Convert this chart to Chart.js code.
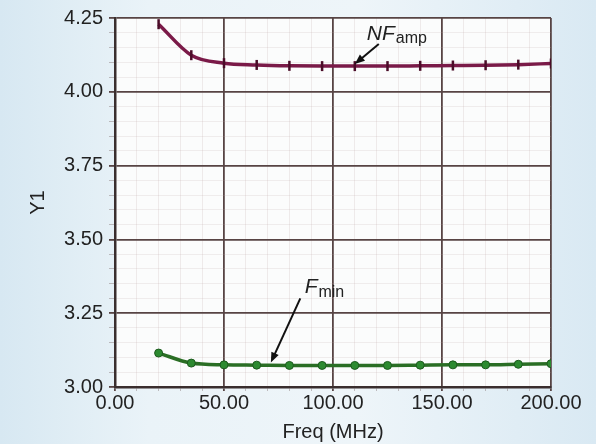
<!DOCTYPE html>
<html>
<head>
<meta charset="utf-8">
<script src="https://cdn.jsdelivr.net/npm/chart.js@4"></script>
<style>
  html, body { margin: 0; padding: 0; }
  body {
    width: 596px; height: 444px; overflow: hidden;
    background: linear-gradient(90deg, #d7e8f2 0%, #eaf3f8 25%, #eef5f9 60%, #d9e9f3 100%);
  }
  #wrap { position: relative; width: 596px; height: 444px; }
</style>
</head>
<body>
<div id="wrap"><canvas id="nfChart" width="596" height="444"></canvas></div>
<script>
// frequencies (MHz) and curve values
var freqs = [20, 35, 50, 65, 80, 95, 110, 125, 140, 155, 170, 185, 200];
var nfAmp = [4.229, 4.124, 4.097, 4.091, 4.088, 4.087, 4.087, 4.087, 4.088, 4.089, 4.090, 4.092, 4.096];
var fMin  = [3.115, 3.081, 3.075, 3.074, 3.073, 3.073, 3.073, 3.073, 3.074, 3.075, 3.075, 3.077, 3.079];

var xTicks = [0, 50, 100, 150, 200];
var yTicks = [3.00, 3.25, 3.50, 3.75, 4.00, 4.25];

function isMajor(list, v) {
  return list.some(function(t) { return Math.abs(t - v) < 1e-6; });
}

var nfPts = freqs.map(function(f, i) { return { x: f, y: nfAmp[i] }; });
var fminPts = freqs.map(function(f, i) { return { x: f, y: fMin[i] }; });

// white plot area
var plotBg = {
  id: 'plotBg',
  beforeDraw: function(chart) {
    var a = chart.chartArea, ctx = chart.ctx;
    ctx.save();
    ctx.fillStyle = '#fbfcfc';
    ctx.fillRect(a.left, a.top, a.right - a.left, a.bottom - a.top);
    ctx.restore();
  }
};

// curve labels with arrows
function arrow(ctx, x1, y1, x2, y2) {
  var ang = Math.atan2(y2 - y1, x2 - x1);
  ctx.beginPath();
  ctx.moveTo(x1, y1);
  ctx.lineTo(x2 - 6 * Math.cos(ang), y2 - 6 * Math.sin(ang));
  ctx.stroke();
  ctx.beginPath();
  ctx.moveTo(x2, y2);
  ctx.lineTo(x2 - 10 * Math.cos(ang) + 4 * Math.sin(ang), y2 - 10 * Math.sin(ang) - 4 * Math.cos(ang));
  ctx.lineTo(x2 - 10 * Math.cos(ang) - 4 * Math.sin(ang), y2 - 10 * Math.sin(ang) + 4 * Math.cos(ang));
  ctx.closePath();
  ctx.fill();
}

var labels = {
  id: 'labels',
  afterDatasetsDraw: function(chart) {
    var ctx = chart.ctx, xs = chart.scales.x, ys = chart.scales.y;
    ctx.save();
    ctx.strokeStyle = '#111';
    ctx.fillStyle = '#111';
    ctx.lineWidth = 2;
    arrow(ctx, xs.getPixelForValue(121), ys.getPixelForValue(4.162), xs.getPixelForValue(110), ys.getPixelForValue(4.094));
    arrow(ctx, xs.getPixelForValue(85), ys.getPixelForValue(3.30), xs.getPixelForValue(71.5), ys.getPixelForValue(3.083));

    ctx.fillStyle = '#222';
    ctx.textBaseline = 'alphabetic';
    ctx.font = 'italic 21px "Liberation Sans", Arial, sans-serif';
    var nx = xs.getPixelForValue(115.5), ny = ys.getPixelForValue(4.175);
    ctx.fillText('NF', nx, ny);
    var w = ctx.measureText('NF').width;
    ctx.font = '16px "Liberation Sans", Arial, sans-serif';
    ctx.fillText('amp', nx + w + 1, ny + 3);

    ctx.font = 'italic 21px "Liberation Sans", Arial, sans-serif';
    var fx = xs.getPixelForValue(87), fy = ys.getPixelForValue(3.318);
    ctx.fillText('F', fx, fy);
    w = ctx.measureText('F').width;
    ctx.font = '16px "Liberation Sans", Arial, sans-serif';
    ctx.fillText('min', fx + w + 1, fy + 4);
    ctx.restore();
  }
};

var tickFont = { family: '"Liberation Sans", Arial, sans-serif', size: 20 };

new Chart(document.getElementById('nfChart'), {
  type: 'line',
  data: {
    datasets: [
      {
        label: 'NFamp',
        data: nfPts,
        borderColor: '#7a1a48',
        borderWidth: 3.5,
        cubicInterpolationMode: 'monotone',
        pointStyle: 'line',
        rotation: 90,
        pointRadius: 5,
        pointBorderWidth: 2.5,
        pointBorderColor: '#4a0c28',
        fill: false
      },
      {
        label: 'Fmin',
        data: fminPts,
        borderColor: '#2a6e25',
        borderWidth: 3.5,
        cubicInterpolationMode: 'monotone',
        pointStyle: 'circle',
        pointRadius: 4,
        pointBackgroundColor: '#2c8a30',
        pointBorderColor: '#1d5a1e',
        pointBorderWidth: 1,
        fill: false
      }
    ]
  },
  options: {
    responsive: false,
    animation: false,
    layout: { padding: { top: 18, right: 45, left: 26, bottom: 0 } },
    plugins: { legend: { display: false }, tooltip: { enabled: false } },
    scales: {
      x: {
        type: 'linear',
        min: 0,
        max: 200,
        afterFit: function(s) { s.height = 57; },
        ticks: {
          stepSize: 10,
          autoSkip: false,
          maxRotation: 0,
          padding: 0,
          color: '#222',
          font: tickFont,
          callback: function(v) { return isMajor(xTicks, v) ? v.toFixed(2) : ''; }
        },
        grid: {
          color: function(c) { return isMajor(xTicks, c.tick.value) ? '#574444' : 'rgba(190,165,165,0.2)'; },
          lineWidth: function(c) { return isMajor(xTicks, c.tick.value) ? 1.8 : 1; },
          tickColor: function(c) { return isMajor(xTicks, c.tick.value) ? '#574444' : 'rgba(120,100,100,0.4)'; },
          tickLength: 4
        },
        border: { color: '#3a2e2e', width: 2.5 },
        title: {
          display: true,
          text: 'Freq (MHz)',
          color: '#222',
          font: tickFont,
          padding: { top: 0, bottom: 0 }
        }
      },
      y: {
        min: 3.0,
        max: 4.25,
        afterFit: function(s) { s.width = 89; },
        afterBuildTicks: function(s) {
          var t = [];
          for (var i = 0; i <= 25; i++) t.push({ value: Math.round((3 + i * 0.05) * 100) / 100 });
          s.ticks = t;
        },
        ticks: {
          autoSkip: false,
          padding: 6,
          color: '#222',
          font: tickFont,
          callback: function(v) { return isMajor(yTicks, v) ? v.toFixed(2) : ''; }
        },
        grid: {
          color: function(c) { return isMajor(yTicks, c.tick.value) ? '#574444' : 'rgba(190,165,165,0.18)'; },
          lineWidth: function(c) { return isMajor(yTicks, c.tick.value) ? 1.8 : 1; },
          tickColor: function(c) { return isMajor(yTicks, c.tick.value) ? '#574444' : 'rgba(120,100,100,0.4)'; },
          tickLength: 6
        },
        border: { color: '#3a2e2e', width: 2.5 },
        title: {
          display: true,
          text: 'Y1',
          color: '#222',
          font: tickFont,
          padding: { top: 0, bottom: 0 }
        }
      }
    }
  },
  plugins: [plotBg, labels]
});
</script>
</body>
</html>
